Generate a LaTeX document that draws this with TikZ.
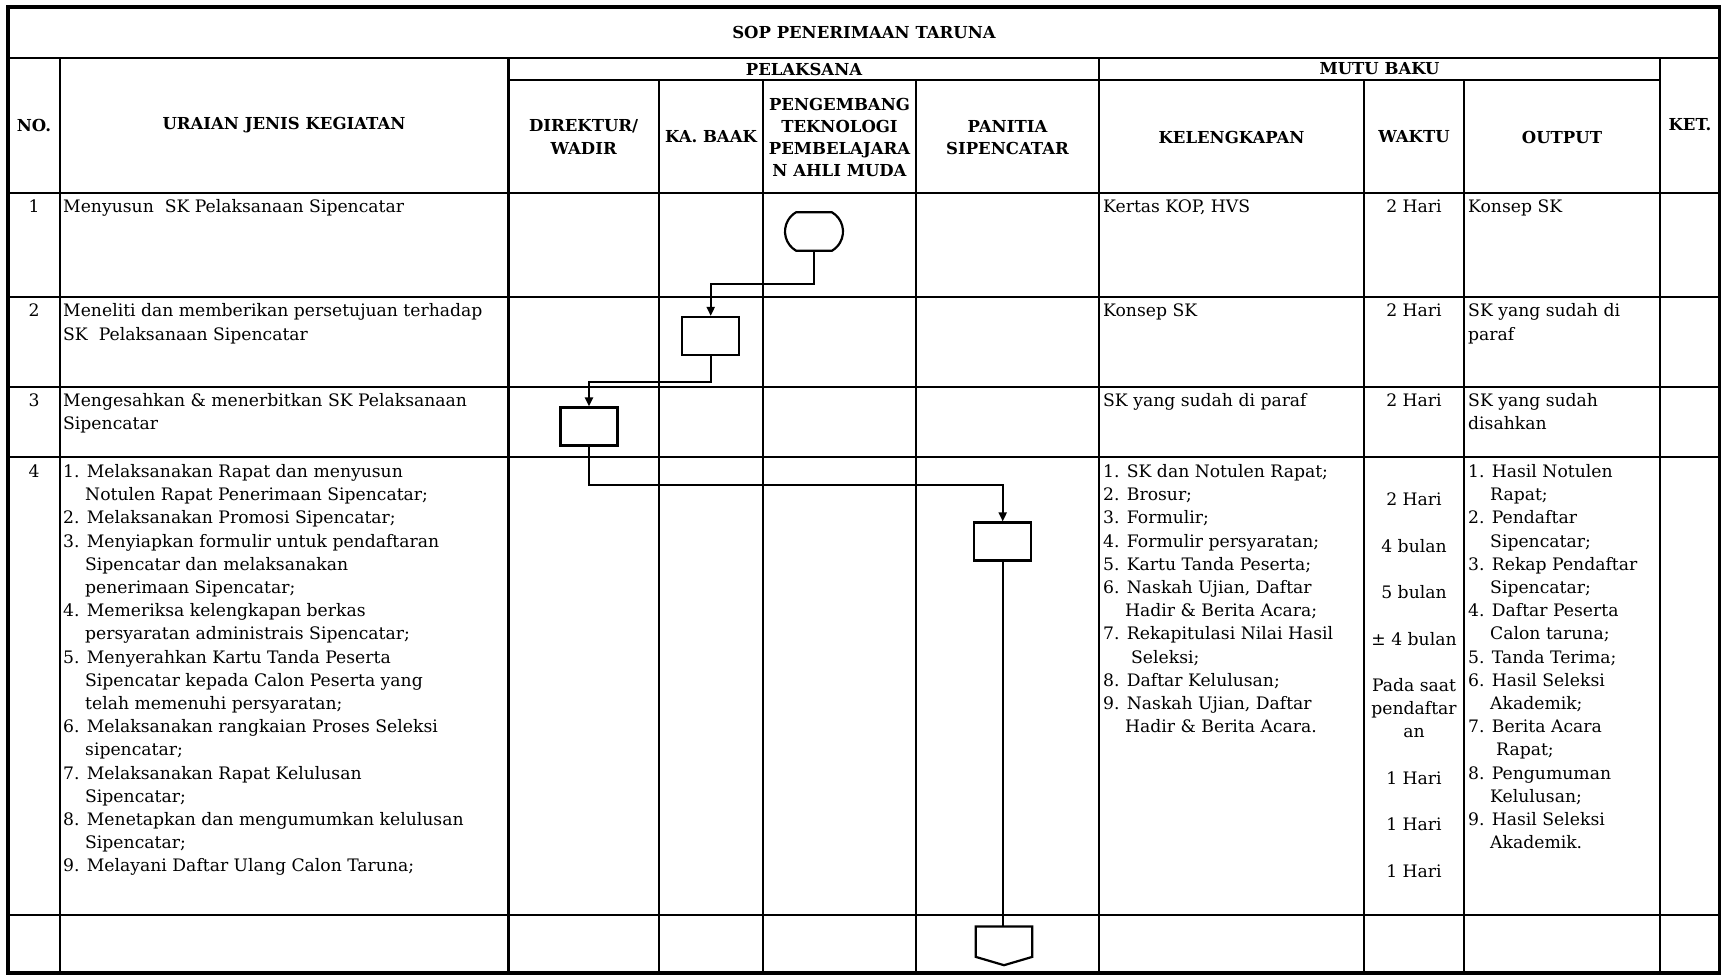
\documentclass[tikz,border=0pt]{standalone}
\usepackage{fontspec}
\setmainfont{DejaVu Serif}
\usetikzlibrary{arrows.meta,shapes.misc,calc}
\newcommand\hang{\hspace*{22pt}}
\newcommand\hangb{\hspace*{28pt}}
\begin{document}
\begin{tikzpicture}[x=1pt,y=-1pt,
  grid/.style={line width=2.3pt},
  outer/.style={line width=3.4pt},
  hdr/.style={font=\fontsize{16.5}{22.3}\bfseries\selectfont, align=center, inner sep=0pt},
  body/.style={font=\fontsize{17.2}{23.2}\selectfont, inner sep=0pt, anchor=north west, align=left},
  ctr/.style={font=\fontsize{17.2}{23.2}\selectfont, inner sep=0pt, anchor=north, align=center},
  procbox/.style={draw, line width=2.2pt, minimum width=57pt, minimum height=38pt, inner sep=0pt},
  termbox/.style={draw, line width=2.2pt, rounded rectangle, rounded rectangle arc length=120, minimum width=58pt, minimum height=38.5pt, inner sep=0pt},
  conn/.style={line width=2pt, -{Triangle[length=9pt,width=8pt]}},
  plain/.style={line width=2pt}
]
\useasboundingbox (0,0) rectangle (1721,979);
\fill[white] (0,0) rectangle (1721,979);
% ---- table grid ----
\draw[grid] (8,58) -- (1720,58);
\draw[grid] (508.5,80) -- (1660,80);
\foreach \yy in {193,297,387,457,915} \draw[grid] (8,\yy) -- (1720,\yy);
\foreach \xx in {60,508.5,1099,1660} \draw[grid] (\xx,58) -- (\xx,973);
\foreach \xx in {659,763,916,1364,1464} \draw[grid] (\xx,80) -- (\xx,973);
\draw[outer] (8,7) rectangle (1720,973);
% ---- headers ----
\node[hdr] (title) at (864,32.5) {SOP PENERIMAAN TARUNA};
\node[hdr] (hpel) at (804,69) {PELAKSANA};
\node[hdr] (hmutu) at (1379.5,69) {MUTU BAKU};
\node[hdr] (hno) at (34,125) {NO.};
\node[hdr] (hura) at (284,125) {URAIAN JENIS KEGIATAN};
\node[hdr] (hket) at (1690,125) {KET.};
\node[hdr] (hdir) at (583.7,137) {DIREKTUR/\\WADIR};
\node[hdr] (hbaak) at (711,137) {KA. BAAK};
\node[hdr] (hpeng) at (839.5,137.5) {PENGEMBANG\\TEKNOLOGI\\PEMBELAJARA\\N AHLI MUDA};
\node[hdr] (hpan) at (1007.5,137.5) {PANITIA\\SIPENCATAR};
\node[hdr] (hkel) at (1231.5,137) {KELENGKAPAN};
\node[hdr] (hwak) at (1414,137) {WAKTU};
\node[hdr] (hout) at (1562,137) {OUTPUT};
% ---- row 1 ----
\node[ctr] (n1) at (34,196.5) {\strut 1};
\node[body] (u1) at (63,196.5) {\strut Menyusun\ \ SK Pelaksanaan Sipencatar};
\node[body] (k1) at (1103,196.5) {\strut Kertas KOP, HVS};
\node[ctr] (w1) at (1414,196.5) {\strut 2 Hari};
\node[body] (o1) at (1468,196.5) {\strut Konsep SK};
% ---- row 2 ----
\node[ctr] (n2) at (34,300.5) {\strut 2};
\node[body] (u2) at (63,300.5) {\strut Meneliti dan memberikan persetujuan terhadap\\SK\ \ Pelaksanaan Sipencatar};
\node[body] (k2) at (1103,300.5) {\strut Konsep SK};
\node[ctr] (w2) at (1414,300.5) {\strut 2 Hari};
\node[body] (o2) at (1468,300.5) {\strut SK yang sudah di\\paraf};
% ---- row 3 ----
\node[ctr] (n3) at (34,390) {\strut 3};
\node[body] (u3) at (63,390) {\strut Mengesahkan \& menerbitkan SK Pelaksanaan\\Sipencatar};
\node[body] (k3) at (1103,390) {\strut SK yang sudah di paraf};
\node[ctr] (w3) at (1414,390) {\strut 2 Hari};
\node[body] (o3) at (1468,390) {\strut SK yang sudah\\disahkan};
% ---- row 4 ----
\node[ctr] (n4) at (34,461) {\strut 4};
\node[body] (u4) at (63,461) {\strut 1. Melaksanakan Rapat dan menyusun\\
\hang Notulen Rapat Penerimaan Sipencatar;\\
2. Melaksanakan Promosi Sipencatar;\\
3. Menyiapkan formulir untuk pendaftaran\\
\hang Sipencatar dan melaksanakan\\
\hang penerimaan Sipencatar;\\
4. Memeriksa kelengkapan berkas\\
\hang persyaratan administrais Sipencatar;\\
5. Menyerahkan Kartu Tanda Peserta\\
\hang Sipencatar kepada Calon Peserta yang\\
\hang telah memenuhi persyaratan;\\
6. Melaksanakan rangkaian Proses Seleksi\\
\hang sipencatar;\\
7. Melaksanakan Rapat Kelulusan\\
\hang Sipencatar;\\
8. Menetapkan dan mengumumkan kelulusan\\
\hang Sipencatar;\\
9. Melayani Daftar Ulang Calon Taruna;};
\node[body] (k4) at (1103,461) {\strut 1. SK dan Notulen Rapat;\\
2. Brosur;\\
3. Formulir;\\
4. Formulir persyaratan;\\
5. Kartu Tanda Peserta;\\
6. Naskah Ujian, Daftar\\
\hang Hadir \& Berita Acara;\\
7. Rekapitulasi Nilai Hasil\\
\hangb Seleksi;\\
8. Daftar Kelulusan;\\
9. Naskah Ujian, Daftar\\
\hang Hadir \& Berita Acara.};
\node[ctr] (w4) at (1414,489.5) {\strut 2 Hari\\[23.2pt]
4 bulan\\[23.2pt]
5 bulan\\[23.2pt]
± 4 bulan\\[23.2pt]
Pada saat\\
pendaftar\\
an\\[23.2pt]
1 Hari\\[23.2pt]
1 Hari\\[23.2pt]
1 Hari};
\node[body] (o4) at (1468,461) {\strut 1. Hasil Notulen\\
\hang Rapat;\\
2. Pendaftar\\
\hang Sipencatar;\\
3. Rekap Pendaftar\\
\hang Sipencatar;\\
4. Daftar Peserta\\
\hang Calon taruna;\\
5. Tanda Terima;\\
6. Hasil Seleksi\\
\hang Akademik;\\
7. Berita Acara\\
\hangb Rapat;\\
8. Pengumuman\\
\hang Kelulusan;\\
9. Hasil Seleksi\\
\hang Akademik.};
% ---- flow shapes ----
\node[termbox] (t1) at (814,231.5) {};
\node[procbox] (b2) at (710.7,336) {};
\node[procbox] (b3) at (589,426.5) {};
\node[procbox] (b4) at (1002.7,541.5) {};
\node[minimum width=56pt, minimum height=30pt, inner sep=0pt] (off) at (1004,941.7) {};
\draw[line width=2.2pt, line join=miter] (off.south west) -- (off.north west) -- (off.north east) -- (off.south east) -- ($(off.south)+(0,8.3)$) -- cycle;
% ---- connectors ----
\draw[conn] (t1.south) -- ++(0,32.6) -| (b2.north);
\draw[conn] (b2.south) -- ++(0,26) -| (b3.north);
\draw[conn] (b3.south) -- ++(0,38.3) -| (b4.north);
\draw[plain] (b4.south) -- (off.north -| b4.south);
\end{tikzpicture}
\end{document}
